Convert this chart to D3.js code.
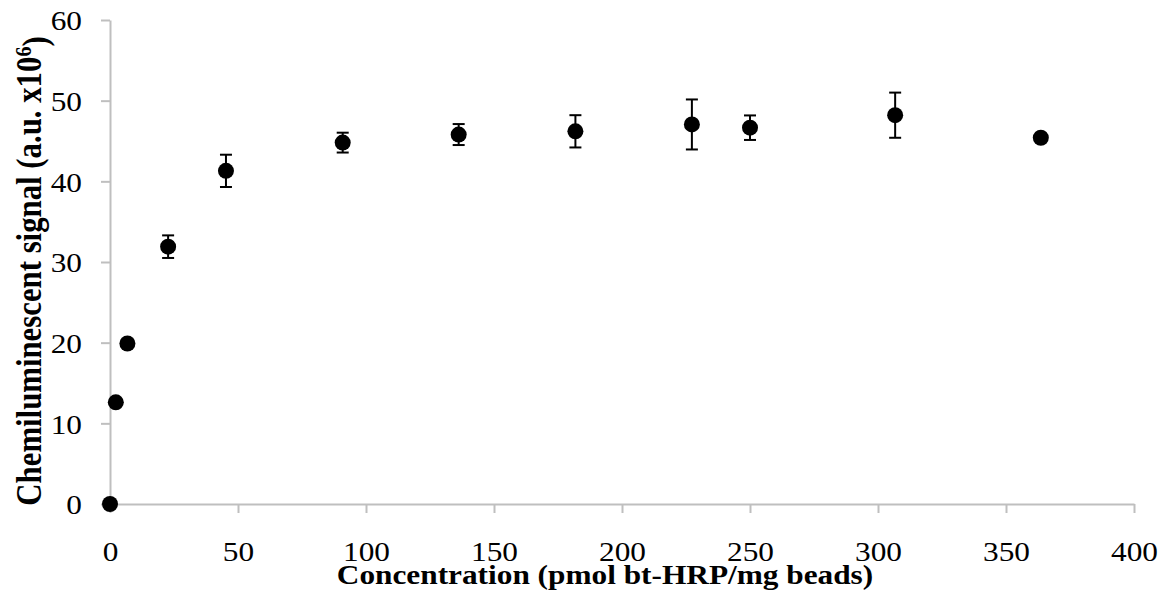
<!DOCTYPE html>
<html>
<head>
<meta charset="utf-8">
<script src="https://cdn.jsdelivr.net/npm/d3@7"></script>
<style>
	body { margin: 0; background: #fff; }
	svg { display: block; }
	.tick text { font-family: "Liberation Serif", "Times New Roman", serif; font-size: 27px; fill: #000; }
	.title { font-family: "Liberation Serif", "Times New Roman", serif; font-weight: bold; fill: #000; }
</style>
</head>
<body>
<div id="chart"></div>
<script>
'use strict';

// concentration (pmol bt-HRP/mg beads)
let conc = [0, 2.27, 6.8, 22.7, 45.3, 90.9, 136.2, 181.8, 227.3, 250, 306.7, 363.6];
// chemiluminescent signal (a.u. x10^6)
let signal = [0, 12.6, 19.9, 31.9, 41.3, 44.8, 45.8, 46.2, 47.05, 46.65, 48.2, 45.4];
// standard deviation
let sd = [0, 0, 0, 1.4, 2.0, 1.23, 1.3, 2.0, 3.1, 1.52, 2.8, 0];

let xTicks = [0, 50, 100, 150, 200, 250, 300, 350, 400];
let yTicks = [0, 10, 20, 30, 40, 50, 60];

let W = 1168, H = 602;
let m = {left: 110, right: 34, top: 20, bottom: 98};
// text in the picture is a bit wider than it is tall
let sx = 1.16;

let svg = d3.select('#chart')
	.append('svg')
		.attr('width', W)
		.attr('height', H)
	;

let x = d3.scaleLinear().domain([0, 400]).range([m.left, W - m.right]);
let y = d3.scaleLinear().domain([0, 60]).range([H - m.bottom, m.top]);

let axisColor = '#bfbfbf';

let gx = svg.append('g')
	.attr('transform', 'translate(0,' + y(0) + ')')
	.call(d3.axisBottom(x).tickValues(xTicks).tickSize(9).tickSizeOuter(0).tickFormat(d3.format('d')))
	;
gx.selectAll('text').attr('y', 0).attr('dy', 0).attr('transform', 'translate(0,57) scale(' + sx + ',1)');

let gy = svg.append('g')
	.attr('transform', 'translate(' + x(0) + ',0)')
	.call(d3.axisLeft(y).tickValues(yTicks).tickSize(9).tickSizeOuter(0).tickFormat(d3.format('d')))
	;
gy.selectAll('text').attr('x', 0).attr('dy', '0.36em').attr('transform', 'translate(-28,0) scale(' + sx + ',1)');

svg.selectAll('.domain, .tick line').attr('stroke', axisColor).attr('stroke-width', 2);

// error bars
let data = conc.map(function(c, i) { return {c: c, s: signal[i], e: sd[i]}; });
let eb = svg.append('g').classed('errs', true)
	.selectAll('g')
	.data(data.filter(function(d) { return d.e > 0; }))
	.join('g')
	.attr('stroke', '#000')
	.attr('stroke-width', 2)
	;
eb.append('line')
	.attr('x1', function(d) { return x(d.c); })
	.attr('x2', function(d) { return x(d.c); })
	.attr('y1', function(d) { return y(d.s + d.e); })
	.attr('y2', function(d) { return y(d.s - d.e); })
	;
eb.selectAll('line.cap')
	.data(function(d) { return [[d.c, d.s + d.e], [d.c, d.s - d.e]]; })
	.join('line')
	.classed('cap', true)
	.attr('x1', function(p) { return x(p[0]) - 6; })
	.attr('x2', function(p) { return x(p[0]) + 6; })
	.attr('y1', function(p) { return y(p[1]); })
	.attr('y2', function(p) { return y(p[1]); })
	;

svg.append('g').classed('points', true)
	.selectAll('circle')
	.data(data)
	.join('circle')
	.attr('cx', function(d) { return x(d.c); })
	.attr('cy', function(d) { return y(d.s); })
	.attr('r', 8)
	.attr('fill', '#000')
	;

// titles
svg.append('text')
	.classed('title', true)
	.attr('transform', 'translate(605,584) scale(' + sx + ',1)')
	.attr('text-anchor', 'middle')
	.style('font-size', '27px')
	.text('Concentration (pmol bt-HRP/mg beads)')
	;

let yt = svg.append('text')
	.classed('title', true)
	.attr('transform', 'translate(41,271) scale(' + sx + ',1) rotate(-90)')
	.attr('text-anchor', 'middle')
	.style('font-size', '30.8px')
	;
yt.append('tspan').text('Chemiluminescent signal (a.u. x10');
yt.append('tspan').attr('dy', '-0.45em').style('font-size', '20px').text('6');
yt.append('tspan').attr('dy', '0.45em').text(')');
</script>
</body>
</html>
